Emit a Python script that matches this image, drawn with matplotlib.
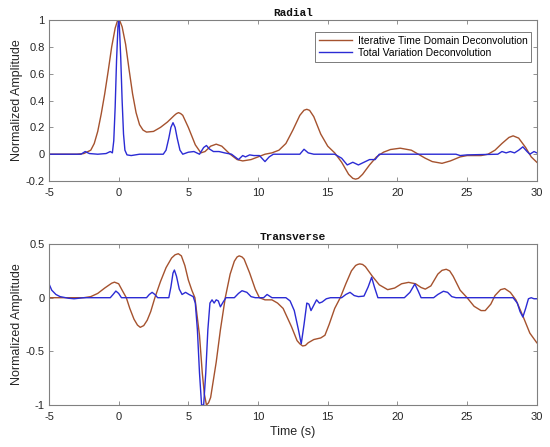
import matplotlib
matplotlib.use("Agg")
import matplotlib.pyplot as plt
from matplotlib.ticker import FuncFormatter

# ---------------- data ----------------
rad_itd_t = [-5, -3, -2.5, -2, -1.75, -1.5, -1.25, -1, -0.75, -0.5, -0.25, -0.1, 0, 0.1, 0.25, 0.5,
             0.75, 1.0, 1.25, 1.5, 1.75, 2.0, 2.5, 3, 3.5, 4, 4.15, 4.3, 4.45, 4.6, 5, 5.5, 5.9, 6.2,
             6.6, 7, 7.4, 8, 8.5, 8.9, 9.5, 10, 10.5, 11, 11.5, 12, 12.5, 13, 13.3, 13.5, 13.7, 14,
             14.5, 15, 15.5, 16, 16.5, 16.8, 17, 17.2, 17.5, 18, 18.5, 19, 19.5, 20.2, 21, 21.5, 22,
             22.5, 23.2, 23.8, 24.5, 25, 26, 26.5, 27, 27.5, 28, 28.3, 28.7, 29.2, 29.6, 30]
rad_itd_v = [0, 0, 0.005, 0.03, 0.08, 0.17, 0.3, 0.45, 0.62, 0.8, 0.94, 0.99, 1.0, 0.99, 0.95, 0.82,
             0.63, 0.45, 0.31, 0.22, 0.18, 0.165, 0.17, 0.2, 0.24, 0.29, 0.303, 0.31, 0.303, 0.29,
             0.2, 0.07, 0.01, 0.02, 0.06, 0.075, 0.06, 0.0, -0.04, -0.05, -0.04, -0.02, 0.0, 0.01,
             0.03, 0.08, 0.18, 0.29, 0.328, 0.335, 0.327, 0.28, 0.15, 0.06, 0.01, -0.06, -0.15,
             -0.18, -0.186, -0.18, -0.15, -0.08, -0.02, 0.015, 0.035, 0.045, 0.03, 0.0, -0.03,
             -0.055, -0.068, -0.05, -0.02, -0.01, -0.01, 0.0, 0.03, 0.08, 0.125, 0.137, 0.12, 0.05,
             -0.02, -0.06]

rad_tv_t = [-5, -3, -2.7, -2.4, -2.1, -1.5, -0.9, -0.6, -0.45, -0.35, -0.25, -0.15, -0.05, 0, 0.05,
            0.15, 0.25, 0.35, 0.45, 0.6, 0.9, 1.5, 3.2, 3.4, 3.6, 3.75, 3.9, 4.05, 4.2, 4.4, 4.6, 5,
            5.4, 5.8, 6.1, 6.3, 6.5, 6.8, 7.2, 7.6, 8.1, 8.6, 8.9, 9.1, 9.4, 9.7, 10.1, 10.5, 10.8,
            11.1, 13.0, 13.3, 13.6, 14, 15.5, 16.0, 16.4, 16.8, 17.2, 17.6, 18.0, 18.4, 18.7, 24.2,
            24.5, 25, 27.2, 27.5, 27.8, 28.1, 28.4, 28.7, 29.0, 29.3, 29.5, 29.8, 30]
rad_tv_v = [0, 0, 0.0, 0.02, 0.005, 0.0, 0.005, 0.02, 0.01, 0.1, 0.35, 0.7, 0.95, 1.0, 0.96,
            0.72, 0.4, 0.15, 0.03, -0.005, -0.01, 0.0, 0.0, 0.03, 0.12, 0.2, 0.235, 0.2, 0.12, 0.03,
            0.0, 0.015, 0.02, 0.0, 0.05, 0.065, 0.04, 0.02, 0.02, 0.01, 0.0, -0.04, -0.01, -0.02,
            -0.005, -0.01, -0.01, -0.055, -0.02, 0.0, 0.0, 0.037, 0.01, 0.0, 0.0, -0.03, -0.08,
            -0.06, -0.08, -0.06, -0.04, -0.04, 0.0, 0.0, -0.01, -0.005, 0.0, 0.02, 0.01, 0.02, 0.01,
            0.03, 0.055, 0.02, 0.0, 0.02, 0.01]

tra_itd_t = [-5, -2.5, -2, -1.5, -1, -0.5, -0.3, 0, 0.25, 0.55, 0.8, 1.1, 1.35, 1.55, 1.8, 2.05,
             2.3, 2.6, 3.0, 3.4, 3.8, 4.05, 4.28, 4.5, 4.75, 5.0, 5.25, 5.47, 5.8, 6.0, 6.15, 6.3,
             6.45, 6.6, 7.0, 7.3, 7.65, 8.0, 8.3, 8.5, 8.65, 8.85, 9.0, 9.4, 9.8, 10.1, 10.5, 11.0,
             11.4, 11.8, 12.4, 12.8, 13.0, 13.2, 13.4, 13.6, 14.0, 14.5, 14.8, 15.1, 15.5, 15.9,
             16.3, 16.7, 17.0, 17.15, 17.3, 17.5, 17.7, 18.2, 18.7, 19.3, 19.8, 20.3, 20.8, 21.3,
             21.7, 22.0, 22.4, 22.9, 23.2, 23.5, 23.75, 24.0, 24.5, 25.0, 25.5, 26.0, 26.3, 26.7,
             27.0, 27.4, 27.7, 28.1, 28.5, 29.0, 29.5, 30]
tra_itd_v = [0, 0, 0.01, 0.04, 0.09, 0.135, 0.145, 0.13, 0.07, 0.0, -0.1, -0.2, -0.255, -0.276,
             -0.26, -0.21, -0.13, 0.0, 0.15, 0.28, 0.37, 0.4, 0.41, 0.39, 0.3, 0.165, 0.07, 0.0,
             -0.35, -0.7, -0.9, -1.0, -0.98, -0.93, -0.6, -0.3, 0.0, 0.22, 0.34, 0.38, 0.39, 0.38,
             0.36, 0.23, 0.08, 0.0, -0.02, -0.02, -0.05, -0.1, -0.27, -0.4, -0.43, -0.45, -0.445,
             -0.42, -0.39, -0.375, -0.35, -0.25, -0.1, 0.0, 0.13, 0.25, 0.3, 0.31, 0.315, 0.31, 0.29,
             0.2, 0.12, 0.075, 0.09, 0.13, 0.143, 0.13, 0.095, 0.08, 0.11, 0.22, 0.255, 0.265, 0.25,
             0.2, 0.07, 0.0, -0.08, -0.12, -0.12, -0.06, 0.02, 0.075, 0.085, 0.05, -0.02, -0.17,
             -0.33, -0.42]

tra_tv_t = [-5, -4.8, -4.5, -4.2, -3.6, -3.2, -2.5, -0.6, -0.4, -0.2, 0.0, 0.2, 2.0, 2.2, 2.4, 2.6,
            2.8, 3.6, 3.75, 3.9, 4.0, 4.15, 4.35, 4.55, 4.8, 5.05, 5.35, 5.5, 5.65, 5.8, 5.95, 6.1,
            6.25, 6.4, 6.55, 6.7, 6.85, 7.0, 7.15, 7.3, 7.5, 7.7, 8.3, 8.6, 8.85, 9.2, 9.5, 9.8,
            10.4, 10.65, 11.0, 12.0, 12.3, 12.6, 12.9, 13.1, 13.3, 13.5, 13.65, 13.8, 14.0, 14.2,
            14.4, 14.6, 14.9, 15.2, 16.0, 16.3, 16.6, 16.9, 17.2, 17.6, 17.9, 18.15, 18.35, 18.6,
            20.5, 20.9, 21.25, 21.5, 21.7, 22.6, 22.9, 23.3, 23.6, 23.9, 24.2, 28.3, 28.6, 28.8,
            29.0, 29.2, 29.4, 29.6, 29.8, 30]
tra_tv_v = [0.13, 0.07, 0.03, 0.01, -0.005, -0.01, 0.0, 0.0, 0.03, 0.062, 0.04, 0.0, 0.0, 0.03,
            0.05, 0.03, 0.0, 0.0, 0.1, 0.23, 0.258, 0.2, 0.08, 0.03, 0.05, 0.03, 0.01, -0.05, -0.3,
            -0.7, -1.0, -1.0, -0.7, -0.3, -0.05, -0.02, -0.05, -0.02, -0.03, -0.085, -0.04, 0.0,
            0.0, 0.04, 0.065, 0.05, 0.01, 0.0, 0.0, 0.03, 0.0, 0.0, -0.03, -0.12, -0.3, -0.43,
            -0.25, -0.05, -0.06, -0.12, -0.07, -0.02, -0.05, -0.04, -0.01, 0.0, 0.0, 0.03, 0.05,
            0.02, 0.01, 0.015, 0.1, 0.19, 0.1, 0.0, 0.0, 0.05, 0.128, 0.06, 0.0, 0.0, 0.03, 0.06,
            0.05, 0.01, 0.0, 0.0, -0.05, -0.13, -0.18, -0.1, -0.01, 0.0, -0.01, -0.01]

titles = ["Radial", "Transverse"]
legend_labels = ["Iterative Time Domain Deconvolution", "Total Variation Deconvolution"]
x_ticks = [-5, 0, 5, 10, 15, 20, 25, 30]
rad_yticks = [-0.2, 0, 0.2, 0.4, 0.6, 0.8, 1]
tra_yticks = [-1, -0.5, 0, 0.5]

# ---------------- style ----------------
C_ITD = "#A5522E"
C_TV = "#2B2BD4"
AX_COL = "#808080"
TXT = "#262626"
plt.rcParams["font.family"] = ["Liberation Sans", "DejaVu Sans"]
plt.rcParams["axes.unicode_minus"] = False

fig = plt.figure(figsize=(5.5, 4.47), dpi=100)
ax1 = fig.add_axes([0.089, 0.595, 0.887, 0.360])
ax2 = fig.add_axes([0.089, 0.094, 0.887, 0.360])

fmt = FuncFormatter(lambda v, p: ("%g" % v))


def style(ax, yticks, ylim, title):
    ax.set_xlim(-5, 30)
    ax.set_ylim(*ylim)
    ax.set_xticks(x_ticks)
    ax.set_yticks(yticks)
    ax.xaxis.set_major_formatter(fmt)
    ax.yaxis.set_major_formatter(fmt)
    ax.tick_params(direction="in", length=3, width=0.6, color=AX_COL, labelsize=8,
                   labelcolor=TXT, top=True, right=True)
    ax.tick_params(axis="x", pad=5)
    ax.tick_params(axis="y", pad=3)
    for s in ax.spines.values():
        s.set_color(AX_COL)
        s.set_linewidth(0.8)
    ax.set_ylabel("Normalized Amplitude", fontsize=9, color=TXT, labelpad=2)
    ax.set_title(title, fontsize=8, family=["Liberation Mono", "DejaVu Sans Mono"],
                 fontweight="bold", color="#111111", pad=3)


ax1.plot(rad_itd_t, rad_itd_v, color=C_ITD, lw=1.0, label=legend_labels[0])
ax1.plot(rad_tv_t, rad_tv_v, color=C_TV, lw=1.0, label=legend_labels[1])
style(ax1, rad_yticks, (-0.2, 1.0), titles[0])
leg = ax1.legend(loc="upper right", bbox_to_anchor=(0.988, 0.925), fontsize=7.5,
                 frameon=True, fancybox=False, edgecolor="#404040", handlelength=3.2,
                 borderpad=0.35, labelspacing=0.2, borderaxespad=0.0, handletextpad=0.5)
leg.get_frame().set_linewidth(0.6)

ax2.plot(tra_itd_t, tra_itd_v, color=C_ITD, lw=1.0)
ax2.plot(tra_tv_t, tra_tv_v, color=C_TV, lw=1.0)
style(ax2, tra_yticks, (-1.0, 0.5), titles[1])
ax2.set_xlabel("Time (s)", fontsize=9, color=TXT, labelpad=3)

fig.savefig("out.png", dpi=100)
